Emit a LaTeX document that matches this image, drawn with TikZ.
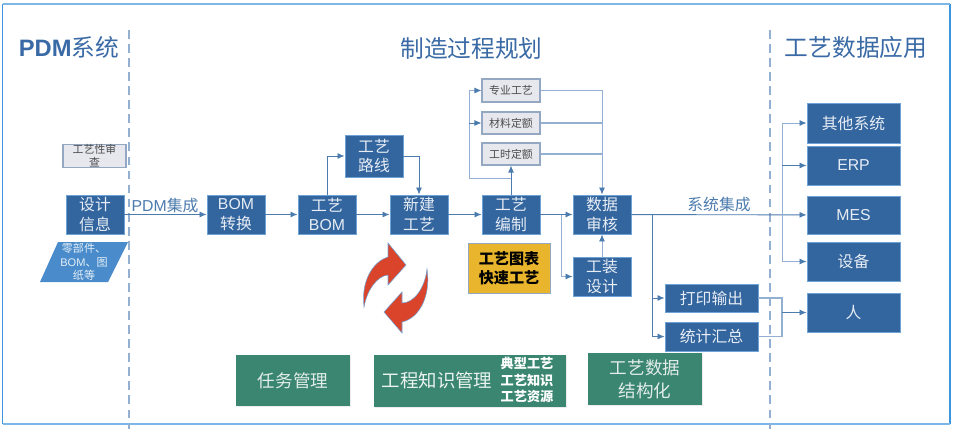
\documentclass[tikz,border=0pt]{standalone}
\usepackage{fontspec}
\setmainfont{Noto Sans CJK SC}
\newfontfamily\latinfont{Liberation Sans}
\usetikzlibrary{shadows, arrows.meta}

\definecolor{procblue}{HTML}{33659F}
\definecolor{procedge}{HTML}{6FA3D6}
\definecolor{framelight}{HTML}{7DB7E8}
\definecolor{framedark}{HTML}{3D95E0}
\definecolor{linkdark}{HTML}{4C7BAE}
\definecolor{linklight}{HTML}{93B0D3}
\definecolor{greybox}{HTML}{E6E8EE}
\definecolor{greyedge}{HTML}{94A8C4}
\definecolor{titleblue}{HTML}{3A6AA5}
\definecolor{procgreen}{HTML}{3B8670}
\definecolor{procyellow}{HTML}{E8B52C}
\definecolor{parablue}{HTML}{4A8CCB}
\definecolor{arrowred}{HTML}{D9442B}

\tikzset{
    procbox/.style={draw=procedge, fill=procblue, text=white!88!procblue, line width=0.5pt, inner sep=0pt, align=center, minimum width=1.16cm, minimum height=0.78cm, font=\fontsize{9}{11.2}\selectfont},
    widebox/.style={procbox, minimum width=1.86cm},
    greystep/.style={draw=greyedge, fill=greybox, text=black!70, line width=0.6pt, inner sep=0pt, align=center, minimum width=1.16cm, font=\fontsize{6.2}{7.4}\selectfont},
    greenbox/.style={fill=procgreen, text=white!85!procgreen, inner sep=0pt, align=center, drop shadow={opacity=0.15, shadow xshift=0.6pt, shadow yshift=-0.6pt}, font=\fontsize{10}{13}\selectfont},
    titletext/.style={text=titleblue, font=\fontsize{13.5}{15}\selectfont},
    linktext/.style={text=linkdark, font=\fontsize{9}{11}\selectfont},
    link/.style={draw=linkdark, line width=0.5pt, -{Latex[length=4pt, width=3.4pt, color=linkdark]}},
    linkpale/.style={draw=linklight, line width=0.8pt},
    divider/.style={draw=linklight, line width=0.9pt, dash pattern=on 5pt off 3pt},
    refresh/.style={fill=arrowred, draw=procedge, line width=0.3pt},
}

\begin{document}
\begin{tikzpicture}[x=0.02cm, y=-0.02cm]
    \useasboundingbox (0, 0) rectangle (956, 429);

    \draw[draw=framedark, line width=1pt] (2.5, 4) -- (2.5, 424);
    \draw[draw=framedark, line width=1pt] (950, 4) -- (950, 424);
    \draw[draw=framelight, line width=1.1pt] (2.5, 4) -- (950, 4);
    \draw[draw=framelight, line width=1.1pt] (2.5, 424) -- (950, 424);
    \draw[divider] (129, 30) -- (129, 429);
    \draw[divider] (770, 30) -- (770, 429);

    \node[titletext] (pdmtitle) at (69, 47) {{\latinfont\bfseries PDM}系统};
    \node[titletext] (plantitle) at (471.5, 48) {制造过程规划};
    \node[titletext] (apptitle) at (856, 47) {工艺数据应用};

    \node[greystep, minimum width=1.26cm, minimum height=0.4cm] (review) at (94.5, 156) {工艺性审\\查};
    \node[procbox] (design) at (95, 214.5) {设计\\信息};
    \fill[parablue] (58, 242) -- (128, 242) -- (108, 282) -- (40, 282) -- cycle;
    \node[text=white!85!parablue, align=center, inner sep=0pt, font=\fontsize{6.3}{7.6}\selectfont] (parts) at (84, 262) {零部件、\\{\latinfont BOM}、图\\纸等};

    \node[procbox] (bomconv) at (236, 214.5) {{\latinfont BOM}\\转换};
    \node[procbox] (procbom) at (327, 214.5) {工艺\\{\latinfont BOM}};
    \node[procbox, minimum height=0.84cm] (route) at (374, 156) {工艺\\路线};
    \node[procbox] (newproc) at (419, 214.5) {新建\\工艺};
    \node[procbox] (procedit) at (511, 214.5) {工艺\\编制};
    \node[procbox] (audit) at (602, 214.5) {数据\\审核};
    \node[procbox] (tooling) at (602, 276.5) {工装\\设计};

    \node[greystep, minimum height=0.46cm] (special) at (511, 90.5) {专业工艺};
    \node[greystep, minimum height=0.44cm] (material) at (511, 123) {材料定额};
    \node[greystep, minimum height=0.44cm] (hours) at (511, 154) {工时定额};

    \node[draw=greyedge, fill=procyellow, text=black, inner sep=0pt, align=center, minimum width=1.64cm, minimum height=1cm, font=\fontsize{8.6}{11}\selectfont\bfseries] (chart) at (509, 268) {工艺图表\\快速工艺};

    \node[widebox, minimum height=0.56cm] (print) at (711.5, 298) {打印输出};
    \node[widebox, minimum height=0.58cm] (stat) at (711.5, 336.5) {统计汇总};

    \node[widebox, minimum height=0.8cm] (other) at (853.5, 123) {其他系统};
    \node[widebox] (erp) at (853.5, 165.5) {{\latinfont ERP}};
    \node[widebox, minimum height=0.76cm] (mes) at (853.5, 215) {{\latinfont MES}};
    \node[widebox] (equip) at (853.5, 261.5) {设备};
    \node[widebox] (person) at (853.5, 312.5) {人};

    \node[greenbox, minimum width=2.28cm, minimum height=1.02cm] (task) at (293, 380.5) {任务管理};
    \node[greenbox, minimum width=3.84cm, minimum height=1.04cm] (know) at (470, 381) {};
    \node[greenbox, minimum width=2.28cm, minimum height=1.04cm] (struct) at (645, 379) {工艺数据\\结构化};
    \node[text=white!90!procgreen, font=\fontsize{10.5}{13}\selectfont] (knowname) at (437, 380) {工程知识管理};
    \node[text=white, align=center, font=\fontsize{7.5}{9.2}\selectfont\bfseries] (knowlist) at (527, 380) {典型工艺\\工艺知识\\工艺资源};

    \coordinate (backjoin) at (511, 178);
    \coordinate (backleft) at (469, 178);
    \coordinate (midleft) at (469, 123);
    \coordinate (toolbranch) at (561, 214.5);
    \coordinate (outbranch) at (652, 214.5);
    \coordinate (appbranch) at (782, 214.5);
    \coordinate (personjoin) at (782, 312.5);

    \draw[link] (design) -- (bomconv);
    \draw[link] (bomconv) -- (procbom);
    \draw[link] (procbom) -- (newproc);
    \draw[link] (newproc) -- (procedit);
    \draw[link] (procedit) -- (audit);
    \draw[link] (audit) -- (mes);
    \draw[link] (procbom.north) |- (route.west);
    \draw[link] (route.east) -| (newproc.north);
    \draw[link] (procedit.north) -- (hours.south);
    \draw[link, draw=linklight] (backjoin) -- (backleft) |- (special.west);
    \draw[link] (midleft) -- (material.west);
    \draw[link, draw=linklight] (special.east) -| (audit.north);
    \draw[linkpale, line width=0.6pt] (material.east) -- (audit.north |- material.east);
    \draw[linkpale, line width=0.6pt] (hours.east) -- (audit.north |- hours.east);
    \draw[link, draw=linklight] (toolbranch) |- (tooling.west);
    \draw[link, draw=linklight] (tooling.north) -- (audit.south);
    \draw[link] (outbranch) |- (print.west);
    \draw[link] (outbranch) |- (stat.west);
    \draw[link, draw=linklight] (appbranch) |- (other.west);
    \draw[link] (appbranch |- erp.west) -- (erp.west);
    \draw[link, draw=linklight] (appbranch) |- (equip.west);
    \draw[linkpale] (print.east) -| (personjoin);
    \draw[linkpale] (stat.east) -| (personjoin);
    \draw[link] (personjoin) -- (person.west);

    \node[linktext] (pdmlabel) at (165, 206) {{\latinfont PDM}集成};
    \node[linktext] (syslabel) at (719, 205) {系统集成};

    \draw[refresh] (364, 307) .. controls (361, 282) and (372, 262) .. (388, 257) -- (388, 243) -- (406, 265) -- (388, 285) -- (388, 275) .. controls (377, 276) and (367, 290) .. (364, 307) -- cycle;
    \draw[refresh] (427, 269) .. controls (431, 295) and (420, 318) .. (402, 322) -- (402, 333) -- (384, 312) -- (402, 292) -- (402, 303) .. controls (414, 303) and (425, 288) .. (427, 269) -- cycle;
\end{tikzpicture}
\end{document}
